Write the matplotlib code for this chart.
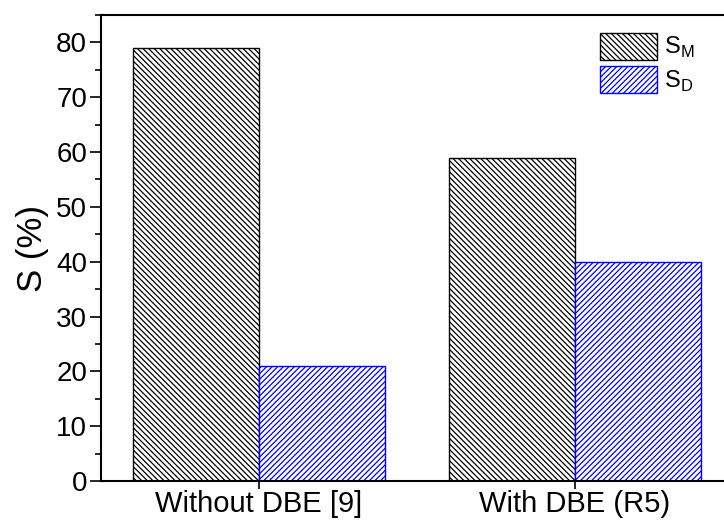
import numpy as np
import matplotlib.pyplot as plt
from matplotlib.ticker import MultipleLocator

plt.rcParams['font.family'] = ['Liberation Sans', 'DejaVu Sans']
plt.rcParams['hatch.linewidth'] = 0.9

# Selectivity data
categories = ['Without DBE [9]', 'With DBE (R5)']
s_m = [79, 59]
s_d = [21, 40]

x = np.array([1, 2])
width = 0.4

fig = plt.figure(figsize=(7.24, 5.2), dpi=100)
ax = fig.add_axes([101 / 724, 39 / 520, 632 / 724, 466 / 520])

ax.bar(x - width / 2, s_m, width, facecolor='white', edgecolor='black',
       hatch='\\' * 6, linewidth=1.0, label='S$_\\mathregular{M}$')
ax.bar(x + width / 2, s_d, width, facecolor='white', edgecolor='blue',
       hatch='/' * 6, linewidth=1.0, label='S$_\\mathregular{D}$')

ax.set_xlim(0.5, 2.5)
ax.set_ylim(0, 85)
ax.set_xticks(x)
ax.set_xticklabels(categories, fontsize=21)
ax.yaxis.set_major_locator(MultipleLocator(10))
ax.yaxis.set_minor_locator(MultipleLocator(5))
ax.tick_params(axis='y', which='major', length=8, width=1.2, labelsize=20, pad=2)
ax.tick_params(axis='y', which='minor', length=4, width=1.2)
ax.tick_params(axis='x', length=6, width=1.2, pad=0.5)
ax.set_ylabel('S (%)', fontsize=25, labelpad=5)

for side in ['left', 'bottom', 'top']:
    ax.spines[side].set_linewidth(1.5)
ax.spines['right'].set_visible(False)

ax.legend(loc='upper left', bbox_to_anchor=(0.756, 1.008), frameon=False,
          fontsize=17, handlelength=2.4, handleheight=1.4, handletextpad=0.3,
          labelspacing=0.25)

fig.savefig('out.png', dpi=100)
